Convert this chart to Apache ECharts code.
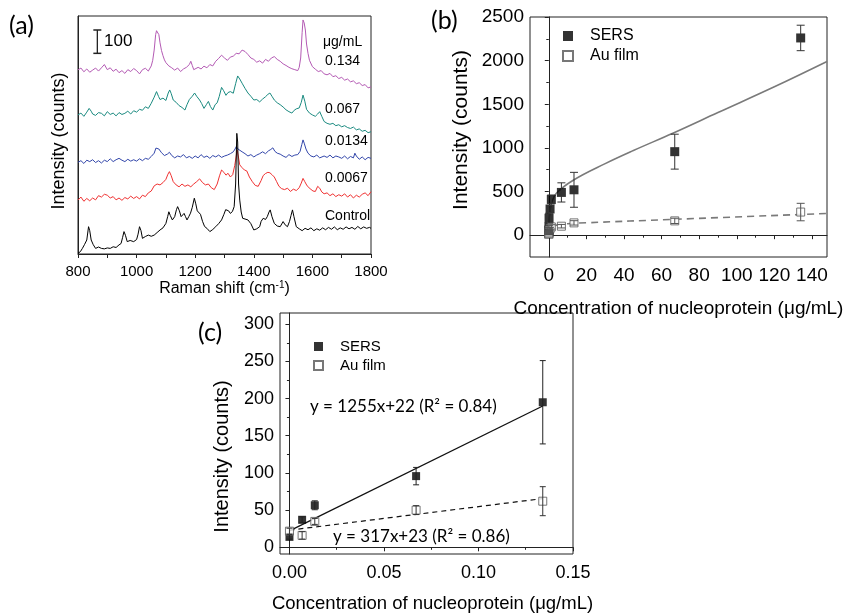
<!DOCTYPE html>
<html>
<head>
<meta charset="utf-8">
<script src="https://cdn.jsdelivr.net/npm/echarts@6/dist/echarts.min.js"></script>
<style>
html, body { margin: 0; background: #fff; }
#main { width: 846px; height: 614px; }
</style>
</head>
<body>
<div id="main"></div>
<script>
// (a) Raman spectra, [shift, stacked intensity in counts]
var spec0134 = [[800,789],[810,797],[820,781],[830,793],[840,779],[850,788],[860,797],[870,784],[880,798],[890,812],[895,806],[900,790],[910,798],[920,783],[930,792],[940,777],[950,786],[960,774],[970,790],[980,782],[990,795],[1000,786],[1010,772],[1020,790],[1030,796],[1040,784],[1050,806],[1055,830],[1060,874],[1065,940],[1068,957],[1072,950],[1076,940],[1080,905],[1085,872],[1090,850],[1095,832],[1100,820],[1110,806],[1120,798],[1130,788],[1140,797],[1150,782],[1160,793],[1170,800],[1180,812],[1185,826],[1190,808],[1195,790],[1200,785],[1210,800],[1220,793],[1230,805],[1240,798],[1250,812],[1260,806],[1270,826],[1280,838],[1290,852],[1300,840],[1310,830],[1320,844],[1330,848],[1340,860],[1350,858],[1360,874],[1365,880],[1370,868],[1380,855],[1390,840],[1400,834],[1410,822],[1420,828],[1430,818],[1440,834],[1450,826],[1460,840],[1470,846],[1480,834],[1490,826],[1500,815],[1510,808],[1520,800],[1530,794],[1540,790],[1550,786],[1555,800],[1560,840],[1565,950],[1568,1003],[1572,990],[1576,960],[1580,900],[1585,860],[1590,830],[1600,803],[1610,792],[1620,782],[1630,786],[1640,772],[1650,768],[1660,774],[1670,760],[1680,764],[1690,752],[1700,757],[1710,745],[1720,750],[1730,738],[1740,742],[1750,730],[1760,734],[1770,722],[1780,726],[1790,712],[1800,716]];
var spec0067 = [[800,596],[810,604],[820,590],[830,608],[838,624],[845,612],[850,600],[860,594],[870,606],[880,603],[890,592],[900,610],[910,598],[920,604],[930,592],[940,606],[950,598],[960,603],[970,612],[980,600],[990,614],[1000,608],[1010,620],[1020,616],[1030,631],[1040,624],[1050,646],[1060,672],[1068,696],[1075,675],[1080,662],[1090,668],[1100,658],[1108,690],[1113,703],[1118,688],[1125,660],[1135,650],[1145,636],[1155,628],[1165,617],[1172,640],[1180,662],[1190,676],[1198,690],[1205,676],[1215,660],[1222,645],[1230,624],[1238,640],[1245,654],[1252,632],[1260,617],[1268,640],[1275,648],[1282,675],[1290,714],[1297,700],[1305,680],[1312,692],[1320,696],[1330,689],[1338,730],[1345,763],[1352,750],[1360,732],[1370,710],[1380,690],[1390,676],[1400,660],[1410,662],[1420,652],[1430,664],[1440,674],[1448,684],[1455,690],[1462,676],[1470,660],[1480,648],[1490,640],[1500,630],[1510,618],[1520,610],[1530,604],[1538,616],[1545,622],[1555,626],[1562,650],[1568,681],[1574,655],[1580,620],[1590,604],[1600,596],[1610,590],[1618,600],[1625,610],[1632,590],[1640,568],[1650,560],[1660,556],[1670,560],[1680,550],[1690,554],[1700,545],[1710,550],[1720,542],[1730,538],[1740,544],[1750,532],[1760,536],[1770,526],[1780,530],[1790,520],[1800,524]];
var spec00134 = [[800,393],[810,400],[820,388],[830,402],[840,396],[850,404],[860,392],[870,400],[880,390],[890,402],[900,396],[910,408],[920,396],[930,404],[940,410],[950,402],[960,396],[970,406],[980,398],[990,404],[1000,398],[1010,408],[1020,400],[1030,410],[1040,406],[1050,418],[1060,432],[1066,454],[1070,460],[1076,450],[1085,434],[1095,422],[1105,428],[1112,436],[1120,422],[1130,412],[1140,420],[1150,416],[1160,426],[1170,412],[1180,418],[1190,410],[1200,420],[1210,412],[1220,426],[1230,414],[1240,420],[1250,410],[1260,422],[1270,416],[1280,424],[1290,414],[1300,420],[1310,424],[1320,430],[1330,438],[1336,450],[1340,460],[1346,450],[1352,442],[1360,438],[1370,430],[1380,420],[1390,426],[1400,416],[1410,424],[1420,430],[1430,438],[1440,430],[1450,442],[1458,448],[1465,455],[1472,440],[1480,432],[1490,428],[1500,420],[1510,414],[1520,426],[1530,418],[1540,424],[1550,426],[1558,440],[1564,470],[1568,489],[1572,475],[1578,450],[1585,432],[1595,420],[1605,416],[1615,424],[1625,412],[1640,420],[1650,414],[1660,424],[1670,412],[1680,420],[1690,416],[1700,410],[1710,420],[1720,408],[1730,418],[1740,412],[1745,432],[1750,420],[1760,406],[1770,416],[1780,404],[1790,414],[1800,410]];
var spec00067 = [[800,231],[810,244],[820,226],[830,238],[840,228],[850,240],[860,232],[870,250],[880,244],[890,256],[900,252],[910,240],[920,246],[930,232],[940,240],[950,230],[960,242],[970,236],[980,248],[990,238],[1000,246],[1010,236],[1020,252],[1030,246],[1040,262],[1050,270],[1060,292],[1070,300],[1080,296],[1090,306],[1100,320],[1107,342],[1112,353],[1118,336],[1125,310],[1135,296],[1145,288],[1155,300],[1165,290],[1175,296],[1185,288],[1195,300],[1205,310],[1215,322],[1225,306],[1235,296],[1245,300],[1255,284],[1265,276],[1275,300],[1283,335],[1290,360],[1298,350],[1305,338],[1312,346],[1320,330],[1328,340],[1335,380],[1340,420],[1343,446],[1347,420],[1352,382],[1360,370],[1368,360],[1376,356],[1385,330],[1395,310],[1405,294],[1415,290],[1425,315],[1432,336],[1440,345],[1448,350],[1455,348],[1462,340],[1470,330],[1478,310],[1486,290],[1495,280],[1505,276],[1515,282],[1525,268],[1535,278],[1545,272],[1555,284],[1562,304],[1568,324],[1574,310],[1582,292],[1592,280],[1602,270],[1610,268],[1618,290],[1625,282],[1632,266],[1640,258],[1650,262],[1660,250],[1670,258],[1680,246],[1690,254],[1700,248],[1710,258],[1720,244],[1730,254],[1740,240],[1750,252],[1760,244],[1770,256],[1780,262],[1790,250],[1800,267]];
var specControl = [[800,3],[808,10],[815,24],[822,40],[830,60],[836,117],[840,100],[845,60],[852,40],[860,24],[870,30],[880,24],[890,22],[900,26],[910,24],[920,31],[930,28],[940,39],[947,45],[952,70],[957,96],[962,80],[968,53],[978,58],[990,53],[1000,62],[1005,85],[1010,117],[1015,100],[1020,67],[1030,75],[1040,81],[1050,76],[1060,81],[1070,92],[1080,103],[1090,112],[1100,131],[1106,160],[1110,181],[1115,165],[1122,146],[1130,160],[1136,190],[1140,203],[1146,185],[1152,160],[1158,164],[1162,174],[1167,160],[1172,146],[1178,160],[1184,175],[1190,200],[1197,239],[1202,215],[1207,185],[1212,190],[1218,170],[1225,140],[1232,118],[1240,110],[1250,96],[1260,105],[1270,117],[1280,130],[1290,146],[1298,170],[1304,190],[1308,196],[1314,185],[1320,174],[1327,182],[1333,203],[1338,300],[1342,517],[1345,480],[1348,300],[1352,231],[1357,180],[1362,153],[1370,150],[1380,146],[1390,130],[1400,103],[1410,108],[1420,117],[1425,140],[1432,153],[1440,148],[1446,160],[1452,180],[1456,189],[1462,160],[1470,131],[1480,120],[1490,117],[1500,139],[1507,125],[1515,117],[1522,140],[1527,165],[1532,189],[1537,160],[1545,117],[1555,108],[1565,100],[1575,110],[1585,104],[1595,112],[1605,100],[1615,108],[1625,102],[1635,112],[1645,104],[1655,114],[1665,106],[1675,116],[1685,104],[1695,112],[1705,106],[1715,116],[1725,108],[1735,114],[1745,106],[1755,118],[1765,108],[1775,116],[1785,110],[1795,114],[1800,110]];
var scaleBar = [[866, 860], [866, 960]];
var specNames = ['0.134', '0.067', '0.0134', '0.0067', 'Control'];

// (b) full concentration range (ug/mL)
var concB = [0, 0.0067, 0.0134, 0.067, 0.134, 0.67, 1.34, 6.7, 13.4, 67, 134];
var sersB = [14, 37, 57, 96, 195, 300, 410, 490, 520, 957, 2260];
var sersErrB = [4, 4, 6, 12, 56, 40, 50, 110, 200, 200, 146];
var auB = [22, 16, 35, 50, 62, 75, 95, 103, 141, 164, 265];
var auErrB = [4, 5, 4, 6, 19, 15, 25, 20, 25, 30, 100];
var sersFitB = [[0.01,80],[0.1,170],[0.5,255],[1.4,365],[4,480],[13,630],[30,820],[45,970],[66,1168],[90,1405],[120,1700],[148,1990]];
var auFitB = [[0.02,15],[0.3,65],[1,92],[3,110],[10,131],[20,142],[66,181],[148,249]];

// (c) low concentration range
var concC = [0, 0.0067, 0.0134, 0.067, 0.134];
var sersC = [14, 37, 56.5, 95.7, 195];
var sersErrC = [3, 4, 6, 11.7, 56];
var auC = [21.7, 16, 34.8, 50, 62];
var auErrC = [4, 5, 4, 6, 19.5];
var sersFitC = [[0, 22], [0.134, 190]];
var auFitC = [[0, 23], [0.134, 65.5]];

var ticksBx = [0, 20, 40, 60, 80, 100, 120, 140];
var minorBx = [10, 30, 50, 70, 90, 110, 130];
var ticksBy = [0, 500, 1000, 1500, 2000, 2500];
var minorBy = [250, 750, 1250, 1750, 2250];
var ticksCx = [0, 0.05, 0.1, 0.15];
var minorCx = [0.025, 0.075, 0.125];
var ticksCy = [0, 50, 100, 150, 200, 250, 300];
var minorCy = [25, 75, 125, 175, 225, 275];

var chart = echarts.init(document.getElementById('main'));

function pairs(xs, ys) {
    return xs.map(function (x, i) { return [x, ys[i]]; });
}
function triples(xs, ys, es) {
    return xs.map(function (x, i) { return [x, ys[i], es[i]]; });
}
// 误差棒
function errBar(cap, color) {
    return function (params, api) {
        var x = api.value(0), y = api.value(1), e = api.value(2);
        var top = api.coord([x, y + e]);
        var bot = api.coord([x, y - e]);
        var st = { stroke: color, lineWidth: 1 };
        return {
            type: 'group',
            children: [
                { type: 'line', shape: { x1: top[0], y1: top[1], x2: bot[0], y2: bot[1] }, style: st },
                { type: 'line', shape: { x1: top[0] - cap, y1: top[1], x2: top[0] + cap, y2: top[1] }, style: st },
                { type: 'line', shape: { x1: bot[0] - cap, y1: bot[1], x2: bot[0] + cap, y2: bot[1] }, style: st }
            ]
        };
    };
}

var axisLineStyle = { show: true, lineStyle: { color: '#222', width: 1 } };
var font = 'Liberation Sans, Arial, sans-serif';
var plain = function (v) { return String(v); };

function minorAxis(grid, pos, min, max, vals) {
    return {
        type: 'value', gridIndex: grid, position: pos, min: min, max: max,
        axisLine: { show: false }, splitLine: { show: false },
        axisLabel: { show: false },
        axisTick: { show: true, customValues: vals, length: 2.5, lineStyle: { color: '#222' } }
    };
}

var specColors = ['#b45ab4', '#1a8a80', '#3246aa', '#f03232', '#000000'];
var specData = [spec0134, spec0067, spec00134, spec00067, specControl];

var series = specData.map(function (d, i) {
    return {
        name: specNames[i], type: 'line', xAxisIndex: 0, yAxisIndex: 0,
        data: d, showSymbol: false, symbol: 'none',
        lineStyle: { color: specColors[i], width: 1 }, z: 2 + i
    };
});
series.push({
    type: 'line', xAxisIndex: 0, yAxisIndex: 0, data: scaleBar,
    symbol: 'rect', symbolSize: [8, 1.5], showSymbol: true,
    lineStyle: { color: '#222', width: 1.3 }, itemStyle: { color: '#222' }
});

// (b)
series.push(
    { type: 'line', xAxisIndex: 1, yAxisIndex: 1, data: sersFitB, showSymbol: false, symbol: 'none', smooth: 0.4,
      lineStyle: { color: '#7a7a7a', width: 1.6 }, z: 2 },
    { type: 'line', xAxisIndex: 1, yAxisIndex: 1, data: auFitB, showSymbol: false, symbol: 'none', smooth: 0.4,
      lineStyle: { color: '#7a7a7a', width: 1.6, type: [7, 5] }, z: 2 },
    { name: 'SERS', type: 'scatter', xAxisIndex: 1, yAxisIndex: 1, data: pairs(concB, sersB),
      symbol: 'rect', symbolSize: 9, itemStyle: { color: '#000' }, z: 3 },
    { name: 'Au film', type: 'scatter', xAxisIndex: 1, yAxisIndex: 1, data: pairs(concB, auB),
      symbol: 'rect', symbolSize: 8, itemStyle: { color: '#fff', borderColor: '#555', borderWidth: 1 }, z: 3 },
    { type: 'custom', xAxisIndex: 1, yAxisIndex: 1, data: triples(concB, sersB, sersErrB),
      renderItem: errBar(4, '#333'), encode: { x: 0, y: 1 }, z: 4 },
    { type: 'custom', xAxisIndex: 1, yAxisIndex: 1, data: triples(concB, auB, auErrB),
      renderItem: errBar(4, '#555'), encode: { x: 0, y: 1 }, z: 4 }
);

// (c)
series.push(
    { type: 'line', xAxisIndex: 3, yAxisIndex: 3, data: sersFitC, showSymbol: false, symbol: 'none',
      lineStyle: { color: '#111', width: 1.3 }, z: 2 },
    { type: 'line', xAxisIndex: 3, yAxisIndex: 3, data: auFitC, showSymbol: false, symbol: 'none',
      lineStyle: { color: '#111', width: 1.2, type: [5, 4] }, z: 2 },
    { name: 'SERS', type: 'scatter', xAxisIndex: 3, yAxisIndex: 3, data: pairs(concC, sersC),
      symbol: 'rect', symbolSize: 8, itemStyle: { color: '#000' }, z: 3 },
    { name: 'Au film', type: 'scatter', xAxisIndex: 3, yAxisIndex: 3, data: pairs(concC, auC),
      symbol: 'rect', symbolSize: 8, itemStyle: { color: '#fff', borderColor: '#555', borderWidth: 1 }, z: 3 },
    { type: 'custom', xAxisIndex: 3, yAxisIndex: 3, data: triples(concC, sersC, sersErrC),
      renderItem: errBar(3, '#222'), encode: { x: 0, y: 1 }, z: 4 },
    { type: 'custom', xAxisIndex: 3, yAxisIndex: 3, data: triples(concC, auC, auErrC),
      renderItem: errBar(3, '#333'), encode: { x: 0, y: 1 }, z: 4 }
);

var option = {
    animation: false,
    backgroundColor: '#fff',
    textStyle: { fontFamily: font, color: '#000' },
    grid: [
        { left: 78, top: 16, width: 293, height: 238, show: true, borderColor: '#222', borderWidth: 1, backgroundColor: 'transparent' },
        { left: 530, top: 17, width: 297, height: 240, show: true, borderColor: '#222', borderWidth: 1, backgroundColor: 'transparent' },
        { left: 280, top: 313, width: 293, height: 249, show: true, borderColor: '#222', borderWidth: 1, backgroundColor: 'transparent' }
    ],
    xAxis: [
        { type: 'value', gridIndex: 0, min: 800, max: 1800, interval: 100,
          axisLine: axisLineStyle, splitLine: { show: false },
          axisTick: { length: 4, lineStyle: { color: '#222' } },
          axisLabel: { fontSize: 15, color: '#000', margin: 10,
                       formatter: function (v) { return v % 200 === 0 ? String(v) : ''; } },
          name: 'Raman shift (cm{sup|-1})', nameLocation: 'middle', nameGap: 26,
          nameTextStyle: { fontSize: 16, color: '#000', rich: { sup: { fontSize: 10, verticalAlign: 'top', padding: [0, 0, 8, 0] } } } },
        { type: 'value', gridIndex: 1, min: -10, max: 148,
          axisLine: axisLineStyle, splitLine: { show: false },
          axisTick: { length: 4, customValues: ticksBx, lineStyle: { color: '#222' } },
          axisLabel: { fontSize: 19, color: '#000', margin: 9, customValues: ticksBx, formatter: plain },
          name: 'Concentration of nucleoprotein (\u03bcg/mL)', nameLocation: 'middle', nameGap: 42,
          nameTextStyle: { fontSize: 19, color: '#000' } },
        minorAxis(1, 'bottom', -10, 148, minorBx),
        { type: 'value', gridIndex: 2, min: -0.005, max: 0.15,
          axisLine: axisLineStyle, splitLine: { show: false },
          axisTick: { length: 4, customValues: ticksCx, lineStyle: { color: '#222' } },
          axisLabel: { fontSize: 18, color: '#000', margin: 10, customValues: ticksCx,
                       formatter: function (v) { return v.toFixed(2); } },
          name: 'Concentration of nucleoprotein (\u03bcg/mL)', nameLocation: 'middle', nameGap: 40,
          nameTextStyle: { fontSize: 18.5, color: '#000', padding: [0, 0, 0, 12] } },
        minorAxis(2, 'bottom', -0.005, 0.15, minorCx)
    ],
    yAxis: [
        { type: 'value', gridIndex: 0, min: 0, max: 1020,
          axisLine: axisLineStyle, splitLine: { show: false },
          axisTick: { show: false }, axisLabel: { show: false },
          name: 'Intensity (counts)', nameLocation: 'middle', nameGap: 10,
          nameTextStyle: { fontSize: 18, color: '#000', padding: [0, 12, 0, 0] } },
        { type: 'value', gridIndex: 1, min: -250, max: 2500,
          axisLine: axisLineStyle, splitLine: { show: false },
          axisTick: { length: 4, customValues: ticksBy, lineStyle: { color: '#222' } },
          axisLabel: { fontSize: 19, color: '#000', margin: 6, customValues: ticksBy, formatter: plain },
          name: 'Intensity (counts)', nameLocation: 'middle', nameGap: 58,
          nameTextStyle: { fontSize: 21, color: '#000', padding: [0, 0, 0, 14] } },
        minorAxis(1, 'left', -250, 2500, minorBy),
        { type: 'value', gridIndex: 2, min: -9, max: 315,
          axisLine: axisLineStyle, splitLine: { show: false },
          axisTick: { length: 4, customValues: ticksCy, lineStyle: { color: '#222' } },
          axisLabel: { fontSize: 18, color: '#000', margin: 6, customValues: ticksCy, formatter: plain },
          name: 'Intensity (counts)', nameLocation: 'middle', nameGap: 48,
          nameTextStyle: { fontSize: 20, color: '#000', padding: [0, 46, 0, 0] } },
        minorAxis(2, 'left', -9, 315, minorCy)
    ],
    legend: [
        { data: ['SERS', 'Au film'], orient: 'vertical', left: 557, top: 23, itemWidth: 10, itemHeight: 10,
          itemGap: 4, selectedMode: false, icon: 'rect',
          textStyle: { fontSize: 16, color: '#000', padding: [0, 0, 0, 12] } },
        { data: ['SERS', 'Au film'], orient: 'vertical', left: 308, top: 334, itemWidth: 9, itemHeight: 9,
          itemGap: 4, selectedMode: false, icon: 'rect',
          textStyle: { fontSize: 15, color: '#000', padding: [0, 0, 0, 12] } }
    ],
    graphic: [
        { type: 'text', left: 9, top: 13, style: { text: '(a)', fontSize: 25, fontFamily: 'Lato', fill: '#000' } },
        { type: 'text', left: 431, top: 8, style: { text: '(b)', fontSize: 25, fontFamily: 'Lato', fill: '#000' } },
        { type: 'text', left: 198, top: 320, style: { text: '(c)', fontSize: 25, fontFamily: 'Lato', fill: '#000' } },
        { type: 'text', left: 104, top: 33, style: { text: '100', fontSize: 17, fontFamily: font, fill: '#000' } },
        { type: 'text', left: 323, top: 35, style: { text: '\u03bcg/mL', fontSize: 14, fontFamily: font, fill: '#000' } },
        { type: 'text', left: 325, top: 54, style: { text: '0.134', fontSize: 14, fontFamily: font, fill: '#000' } },
        { type: 'text', left: 325, top: 102, style: { text: '0.067', fontSize: 14, fontFamily: font, fill: '#000' } },
        { type: 'text', left: 325, top: 134, style: { text: '0.0134', fontSize: 14, fontFamily: font, fill: '#000' } },
        { type: 'text', left: 325, top: 171, style: { text: '0.0067', fontSize: 14, fontFamily: font, fill: '#000' } },
        { type: 'text', left: 325, top: 209, style: { text: 'Control', fontSize: 14, fontFamily: font, fill: '#000' } },
        { type: 'text', left: 310, top: 398, style: { text: 'y = 1255x+22 (R\u00b2 = 0.84)', fontSize: 17, fontFamily: 'Lato', fill: '#000' } },
        { type: 'text', left: 333, top: 528, style: { text: 'y = 317x+23 (R\u00b2 = 0.86)', fontSize: 17, fontFamily: 'Lato', fill: '#000' } }
    ],
    series: series
};

chart.setOption(option);
</script>
</body>
</html>
